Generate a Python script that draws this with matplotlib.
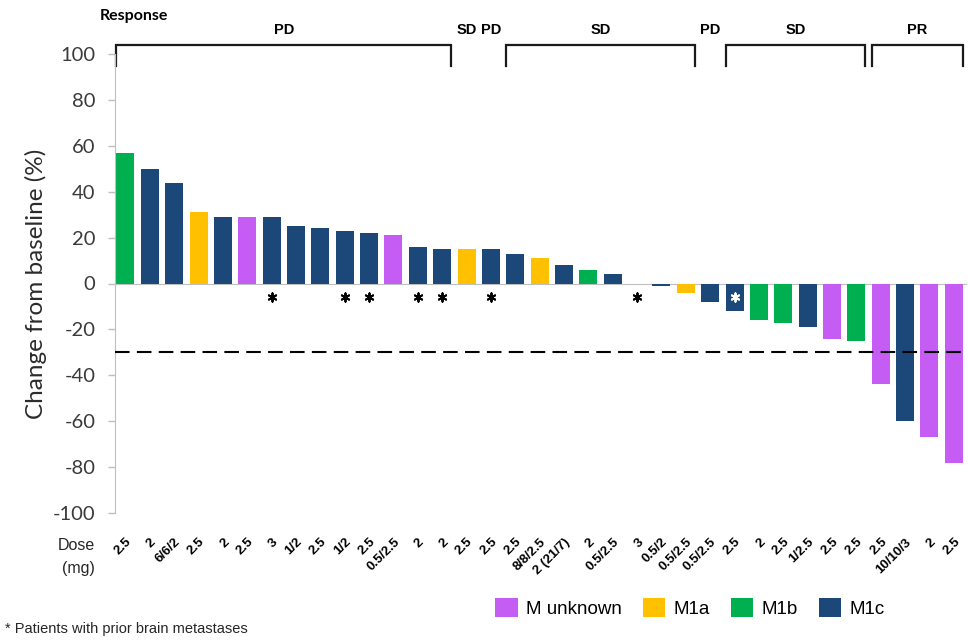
import matplotlib
matplotlib.use("Agg")
import matplotlib.pyplot as plt
import matplotlib.transforms as mtransforms
from matplotlib.patches import Patch

plt.rcParams["axes.unicode_minus"] = False

# ---------------- data ----------------
values = [57, 50, 44, 31, 29, 29, 29, 25, 24, 23, 22, 21, 16, 15, 15, 15, 13,
          11, 8, 6, 4, 0, -1, -4, -8, -12, -16, -17, -19, -24, -25, -44, -60, -67, -78]
stage = ["M1b", "M1c", "M1c", "M1a", "M1c", "M unknown", "M1c", "M1c", "M1c", "M1c",
         "M1c", "M unknown", "M1c", "M1c", "M1a", "M1c", "M1c", "M1a", "M1c", "M1b",
         "M1c", "M1c", "M1c", "M1a", "M1c", "M1c", "M1b", "M1b", "M1c", "M unknown",
         "M1b", "M unknown", "M1c", "M unknown", "M unknown"]
doses = ["2.5", "2", "6/6/2", "2.5", "2", "2.5", "3", "1/2", "2.5", "1/2", "2.5",
         "0.5/2.5", "2", "2", "2.5", "2.5", "2.5", "8/8/2.5", "2 (21/7)", "2", "0.5/2.5",
         "3", "0.5/2", "0.5/2.5", "0.5/2.5", "2.5", "2", "2.5", "1/2.5", "2.5", "2.5",
         "2.5", "10/10/3", "2", "2.5"]
brain_mets = [False, False, False, False, False, False, True, False, False, True,
              True, False, True, True, False, True, False, False, False, False,
              False, True, False, False, False, True, False, False, False, False,
              False, False, False, False, False]
response = ["PD"] * 14 + ["SD", "PD"] + ["SD"] * 8 + ["PD"] + ["SD"] * 6 + ["PR"] * 4
threshold = -30
legend_order = ["M unknown", "M1a", "M1b", "M1c"]

colors = {"M unknown": "#C55CF4", "M1a": "#FFC000", "M1b": "#00B050", "M1c": "#1B4779"}

W, H = 968, 641
fig = plt.figure(figsize=(W / 100, H / 100), dpi=100)
ax = fig.add_axes([115 / W, 1 - 513 / H, (966 - 115) / W, (513 - 54) / H])

x = list(range(len(values)))
ax.bar(x, values, width=0.74, color=[colors[s] for s in stage], zorder=2)
ax.set_xlim(-0.43, len(values) - 0.5)
ax.set_ylim(-100, 100)

# dashed threshold
ax.axhline(threshold, color="black", lw=1.5, ls=(0, (7, 3.5)), zorder=3)

# spines
for s in ["top", "right"]:
    ax.spines[s].set_visible(False)
ax.spines["bottom"].set_position(("data", 0))
ax.spines["bottom"].set_color("#BFBFBF")
ax.spines["left"].set_color("#BFBFBF")
ax.spines["bottom"].set_zorder(1)
ax.set_xticks([])
ax.set_yticks(range(-100, 101, 20))
ax.tick_params(axis="y", direction="out", length=5, width=1, color="#BFBFBF",
               labelsize=14.5, labelcolor="#3A3A3A", pad=9)
for lab in ax.get_yticklabels():
    lab.set_family("Lato")
ax.set_ylabel("Change from baseline (%)", fontsize=17.5, family="Lato", color="#2B2B2B")
ax.yaxis.set_label_coords(-(115 - 47) / (966 - 115), 0.5)

# asterisks for brain metastases
for i, (v, b) in enumerate(zip(values, brain_mets)):
    if b:
        c = "white" if v < -8 else "black"
        ax.scatter([i], [-5.7], marker=(6, 2, 0), s=36, color=c, linewidths=1.4, zorder=4)

# dose labels
tr = mtransforms.blended_transform_factory(ax.transData, fig.transFigure)
for i, d in enumerate(doses):
    ax.text(i, 1 - 536 / H, d, transform=tr, rotation=45, ha="right", va="top",
            rotation_mode="anchor", fontsize=9.5, fontweight="bold",
            family="Liberation Sans", clip_on=False)
fig.text(95 / W, 1 - 545 / H, "Dose", ha="right", va="center", fontsize=11.5,
         family="Liberation Sans", color="#262626")
fig.text(95 / W, 1 - 569 / H, "(mg)", ha="right", va="center", fontsize=11.5,
         family="Liberation Sans", color="#262626")

# response brackets
runs = []
start = 0
for i in range(1, len(response) + 1):
    if i == len(response) or response[i] != response[start]:
        runs.append((start, i - 1, response[start]))
        start = i
trb = mtransforms.blended_transform_factory(ax.transData, fig.transFigure)
y_top = 1 - 45 / H
y_bot = 1 - 66 / H
y_txt = 1 - 30 / H
for a, b, lab in runs:
    if b > a:
        xl, xr = a - 0.37, b + 0.37
        ax.plot([xl, xl, xr, xr], [y_bot, y_top, y_top, y_bot], transform=trb,
                color="#1A1A1A", lw=1.6, clip_on=False, solid_joinstyle="miter")
    ax.text((a + b) / 2, y_txt, lab, transform=trb, ha="center", va="center",
            fontsize=10.5, fontweight="bold", family="Liberation Sans", clip_on=False)
fig.text(100 / W, 1 - 16 / H, "Response", ha="left", va="center", fontsize=11.5,
         fontweight="bold", family="Lato")

# legend
handles = [Patch(facecolor=colors[k], edgecolor="none", label=k) for k in legend_order]
fig.legend(handles=handles, loc="center", bbox_to_anchor=(690 / W, 1 - 608 / H),
           ncol=4, frameon=False, handlelength=1.2, handleheight=1.2,
           handletextpad=0.45, columnspacing=1.1,
           prop={"family": "Liberation Sans", "size": 13.5})

fig.text(5 / W, 1 - 629 / H, "* Patients with prior brain metastases", ha="left",
         va="center", fontsize=10.5, family="Liberation Sans", color="#262626")

fig.savefig("out.png", dpi=100)
